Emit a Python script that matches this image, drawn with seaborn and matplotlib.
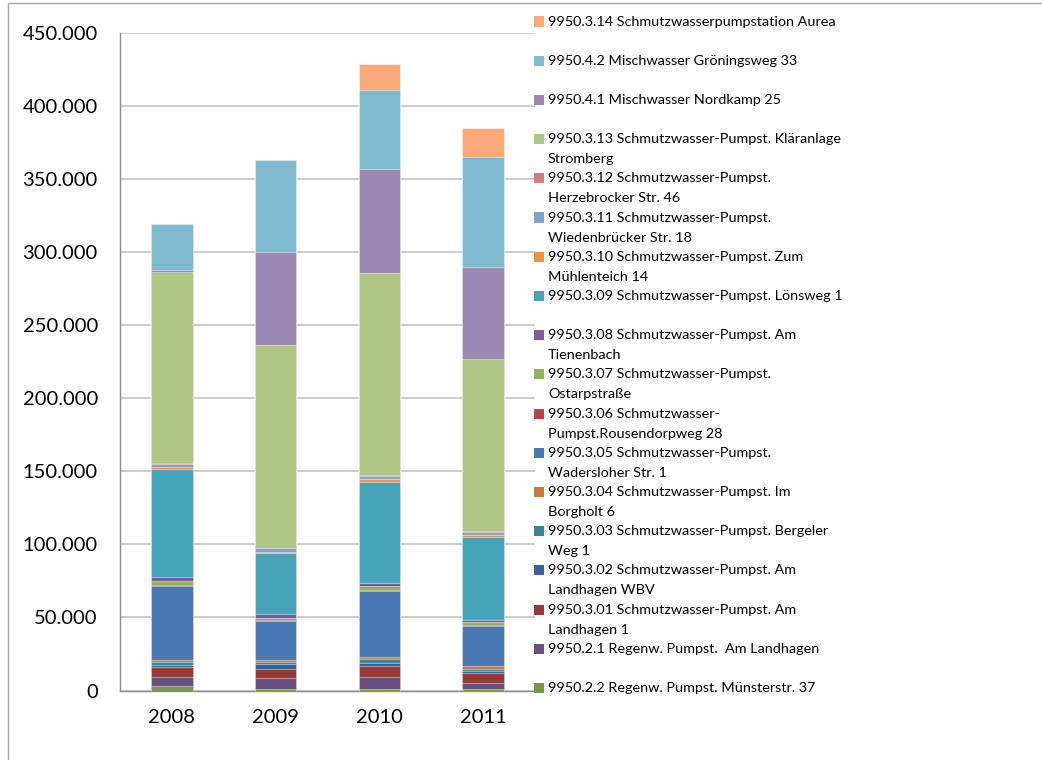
import numpy as np
import pandas as pd
import seaborn as sns
import matplotlib.pyplot as plt
from matplotlib.patches import Rectangle
from matplotlib.ticker import FuncFormatter, FixedLocator

# ----------------------------------------------------
# Data (m³ per year), series listed from bottom of the stack to top
# ----------------------------------------------------
YEARS = ["2008", "2009", "2010", "2011"]

s_2_2 = [3300, 800, 1100, 900]
s_2_1 = [5700, 7500, 8200, 4300]
s_3_01 = [6900, 6400, 7300, 6600]
s_3_02 = [1500, 3200, 2000, 1600]
s_3_03 = [2300, 1400, 2900, 1600]
s_3_04 = [1400, 1800, 1400, 1600]
s_3_05 = [50600, 26700, 44900, 27600]
s_3_06 = [300, 300, 700, 500]
s_3_07 = [2900, 1800, 3000, 2200]
s_3_08 = [2500, 2200, 2300, 1400]
s_3_09 = [74100, 41700, 69100, 57000]
s_3_10 = [1100, 1200, 1500, 900]
s_3_11 = [2100, 2200, 2600, 2300]
s_3_12 = [700, 300, 400, 400]
s_3_13 = [130800, 139100, 138100, 117900]
s_4_1 = [1400, 63100, 71200, 63100]
s_4_2 = [31200, 63200, 53800, 75200]
s_3_14 = [0, 0, 17800, 19700]

LABELS = [
    "9950.2.2 Regenw. Pumpst. Münsterstr. 37",
    "9950.2.1 Regenw. Pumpst.  Am Landhagen",
    "9950.3.01 Schmutzwasser-Pumpst. Am\nLandhagen 1",
    "9950.3.02 Schmutzwasser-Pumpst. Am\nLandhagen WBV",
    "9950.3.03 Schmutzwasser-Pumpst. Bergeler\nWeg 1",
    "9950.3.04 Schmutzwasser-Pumpst. Im\nBorgholt 6",
    "9950.3.05 Schmutzwasser-Pumpst.\nWadersloher Str. 1",
    "9950.3.06 Schmutzwasser-\nPumpst.Rousendorpweg 28",
    "9950.3.07 Schmutzwasser-Pumpst.\nOstarpstraße",
    "9950.3.08 Schmutzwasser-Pumpst. Am\nTienenbach",
    "9950.3.09 Schmutzwasser-Pumpst. Lönsweg 1",
    "9950.3.10 Schmutzwasser-Pumpst. Zum\nMühlenteich 14",
    "9950.3.11 Schmutzwasser-Pumpst.\nWiedenbrücker Str. 18",
    "9950.3.12 Schmutzwasser-Pumpst.\nHerzebrocker Str. 46",
    "9950.3.13 Schmutzwasser-Pumpst. Kläranlage\nStromberg",
    "9950.4.1 Mischwasser Nordkamp 25",
    "9950.4.2 Mischwasser Gröningsweg 33",
    "9950.3.14 Schmutzwasserpumpstation Aurea",
]

COLORS = [
    "#789543", "#654F80", "#963A38", "#37639A", "#34889A", "#C87A38",
    "#4A78B3", "#B94747", "#94B25A", "#7A5E9C", "#48A4BB", "#F0904A",
    "#84A0CF", "#D07E7C", "#AEC584", "#9C89B4", "#7EBAD0", "#F9AA78",
]

SERIES = [s_2_2, s_2_1, s_3_01, s_3_02, s_3_03, s_3_04, s_3_05, s_3_06,
          s_3_07, s_3_08, s_3_09, s_3_10, s_3_11, s_3_12, s_3_13, s_4_1,
          s_4_2, s_3_14]

# ----------------------------------------------------
# Stacked bars: draw cumulative totals, tallest first
# ----------------------------------------------------
sns.set_style("white")
plt.rcParams["font.family"] = ["Lato", "DejaVu Sans"]

W, H = 1042, 760
fig = plt.figure(figsize=(W / 100, H / 100), dpi=100)
ax = fig.add_axes([120 / W, (H - 690.5) / H, (535 - 120) / W, (690.5 - 32.6) / H])

df = pd.DataFrame(np.array(SERIES).T, index=YEARS, columns=LABELS)
cum = df.cumsum(axis=1)

for i in range(len(LABELS) - 1, -1, -1):
    sns.barplot(x=YEARS, y=cum.iloc[:, i].values, color=COLORS[i],
                saturation=1, width=0.4, errorbar=None, ax=ax,
                edgecolor=(1, 1, 1, 0.55), linewidth=0.6, zorder=3)

ax.set_xlim(-0.5, 3.5)
ax.set_ylim(0, 450000)
ax.yaxis.set_major_locator(FixedLocator(np.arange(0, 450001, 50000)))
ax.yaxis.set_major_formatter(FuncFormatter(lambda v, p: f"{int(v):,}".replace(",", ".")))
ax.grid(axis="y", color="#C0C0C0", linewidth=1.1, zorder=0)
ax.set_axisbelow(True)

for side in ["top", "right"]:
    ax.spines[side].set_visible(False)
for side in ["left", "bottom"]:
    ax.spines[side].set_color("#8C8C8C")
    ax.spines[side].set_linewidth(1.0)

ax.xaxis.set_minor_locator(FixedLocator([-0.5, 0.5, 1.5, 2.5, 3.5]))
ax.tick_params(axis="x", which="major", length=0, pad=13, labelsize=14.5, colors="black")
ax.tick_params(axis="x", which="minor", length=6, width=1, color="#8C8C8C", direction="out")
ax.tick_params(axis="y", length=5, width=1, color="#8C8C8C", direction="out",
               pad=11, labelsize=14.5, labelcolor="black")
ax.set_xlabel("")
ax.set_ylabel("")

# ----------------------------------------------------
# Legend (Excel style, top entry = top of the stack)
# ----------------------------------------------------
for k, i in enumerate(range(len(LABELS) - 1, -1, -1)):
    yc = 21.5 + 39.2 * k
    fig.patches.append(Rectangle((534 / W, (H - yc - 5) / H), 10 / W, 10 / H,
                                 transform=fig.transFigure, facecolor=COLORS[i],
                                 edgecolor="none", figure=fig))
    lines = LABELS[i].split("\n")
    for j, line in enumerate(lines):
        fig.text(548 / W, (H - yc - 20 * j) / H, line, fontsize=10.4,
                 va="center", ha="left", color="black")

# chart frame
fig.patches.append(Rectangle((8 / W, -0.1), 1.2, (H - 2.5) / H + 0.1,
                             transform=fig.transFigure, facecolor="none",
                             edgecolor="#A6A6A6", linewidth=1, figure=fig))

fig.savefig("out.png", dpi=100)
